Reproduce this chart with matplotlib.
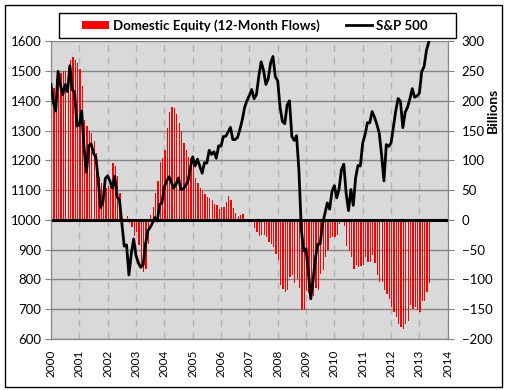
import matplotlib
matplotlib.use("Agg")
import matplotlib.pyplot as plt
import numpy as np
from matplotlib.patches import Rectangle, Patch
from matplotlib.lines import Line2D

plt.rcParams['font.family'] = ['Lato', 'DejaVu Sans']

# monthly points, first one sits on the 2000 gridline
start_year = 2000

sp500 = [1455,
         1394, 1366, 1499, 1452, 1421, 1455, 1431, 1518, 1437, 1429, 1315, 1320,
         1366, 1240, 1160, 1249, 1256, 1224, 1211, 1134, 1041, 1060, 1139, 1148,
         1130, 1107, 1147, 1077, 1067, 990, 912, 916, 815, 886, 936, 880,
         856, 841, 848, 917, 964, 975, 990, 1008, 996, 1051, 1058, 1112,
         1131, 1145, 1126, 1107, 1121, 1141, 1102, 1104, 1115, 1130, 1174, 1212,
         1181, 1204, 1181, 1157, 1192, 1191, 1234, 1220, 1229, 1207, 1249, 1248,
         1280, 1281, 1295, 1311, 1270, 1270, 1277, 1304, 1336, 1378, 1401, 1418,
         1438, 1407, 1421, 1482, 1531, 1503, 1455, 1474, 1527, 1549, 1481, 1468,
         1379, 1331, 1323, 1386, 1400, 1280, 1267, 1283, 1165, 969, 896, 903,
         826, 735, 798, 873, 919, 919, 987, 1021, 1057, 1036, 1096, 1115,
         1074, 1104, 1169, 1187, 1089, 1031, 1102, 1049, 1141, 1183, 1181, 1258,
         1286, 1327, 1326, 1364, 1345, 1321, 1292, 1219, 1131, 1253, 1247, 1258,
         1312, 1366, 1408, 1398, 1310, 1362, 1379, 1407, 1441, 1412, 1416, 1426,
         1498, 1515, 1569, 1598]

flows = [196, 221, 238, 243, 246, 250, 250, 256, 268, 274, 268, 263,
         254, 225, 168, 158, 150, 146, 133, 112, 72, 62, 55, 53,
         57, 63, 95, 90, 74, 46, -4, -3, 6, -6, -12, -27,
         -20, -42, -75, -88, -82, -40, 8, 22, 45, 65, 98, 104,
         118, 155, 182, 190, 188, 178, 162, 150, 130, 118, 106, 104,
         92, 70, 62, 54, 48, 44, 38, 37, 34, 26, 25, 18,
         22, 22, 30, 41, 34, 20, 12, 7, 8, 10, 0, 0,
         -2, -3, -13, -20, -27, -25, -25, -29, -37, -40, -45, -58,
         -68, -110, -116, -121, -117, -96, -93, -106, -99, -114, -151, -151,
         -120, -122, -125, -127, -114, -117, -90, -84, -62, -50, -31, -28,
         -28, -25, -7, -4, -10, -43, -53, -62, -82, -75, -79, -78,
         -76, -62, -70, -70, -59, -73, -93, -104, -104, -118, -124, -132,
         -146, -154, -163, -174, -180, -184, -174, -169, -143, -149, -146, -152,
         -154, -136, -136, -121, -106]

years = list(range(2000, 2015))
sp_ticks = list(range(600, 1601, 100))
bn_ticks = list(range(-200, 301, 50))

x = start_year + np.arange(len(sp500)) / 12.0

fig = plt.figure(figsize=(5.11, 3.90), dpi=100)
W, H = 511.0, 390.0

# outer chart border
fig.patches.append(Rectangle((4.5 / W, 1 - 386.5 / H), (502 - 4.5) / W, (386.5 - 5) / H,
                             transform=fig.transFigure, fill=False,
                             edgecolor='black', lw=1.0))

ax = fig.add_axes([51 / W, 1 - 339 / H, (447.7 - 51) / W, (339 - 41.3) / H])
ax.set_facecolor('#D9D9D9')
ax.set_axisbelow(True)

ax.bar(x, flows, width=0.045, align='edge', color='#FF0000', zorder=2,
       antialiased=False)
ax.axhline(0, color='black', lw=2.2, zorder=3)

ax.set_xlim(2000, 2014)
ax.set_ylim(-200, 300)
ax.set_yticks(bn_ticks)
ax.set_xticks(years)
ax.set_xticklabels([str(y) for y in years], rotation=90, fontsize=8.5)
ax.tick_params(axis='x', length=0, pad=8)
ax.grid(axis='y', color='#868686', lw=1.0)
ax.grid(axis='x', color='#B4B4B4', lw=1.0, ls=(0, (5, 4)))
for s in ['left', 'right', 'bottom']:
    ax.spines[s].set_color('#868686')
ax.spines['top'].set_visible(False)

ax2 = ax.twinx()
ax2.plot(x, sp500, color='black', lw=2.0, zorder=4)
ax2.set_ylim(600, 1600)
ax2.set_yticks(sp_ticks)

# twinx puts the first axis ticks on the left, swap them back
ax.yaxis.tick_right()
ax2.yaxis.tick_left()
ax.tick_params(axis='y', labelsize=9.5, length=4, color='#868686', pad=6)
ax2.tick_params(axis='y', labelsize=9.5, length=4, color='#868686', pad=3)
for s in ['left', 'right', 'bottom']:
    ax2.spines[s].set_color('#868686')
ax2.spines['top'].set_visible(False)

fig.text(493 / W, 1 - 110 / H, 'Billions', rotation=90, ha='center', va='center',
         fontsize=10, fontweight='bold')

# legend box spans wider than the plot
fig.patches.append(Rectangle((58.7 / W, 1 - 37.7 / H), (456.3 - 58.7) / W, 24.4 / H,
                             transform=fig.transFigure, fill=False,
                             edgecolor='black', lw=1.0))
handles = [Patch(facecolor='#FF0000', edgecolor='none'),
           Line2D([], [], color='black', lw=2)]
fig.legend(handles, ['Domestic Equity (12-Month Flows)', 'S&P 500'],
           loc='center', bbox_to_anchor=(255 / W, 1 - 25.5 / H), ncol=2,
           frameon=False, prop={'weight': 'bold', 'size': 9.5},
           handlelength=2.0, handleheight=0.5, handletextpad=0.3,
           columnspacing=2.0)

fig.savefig('out.png', dpi=100)
